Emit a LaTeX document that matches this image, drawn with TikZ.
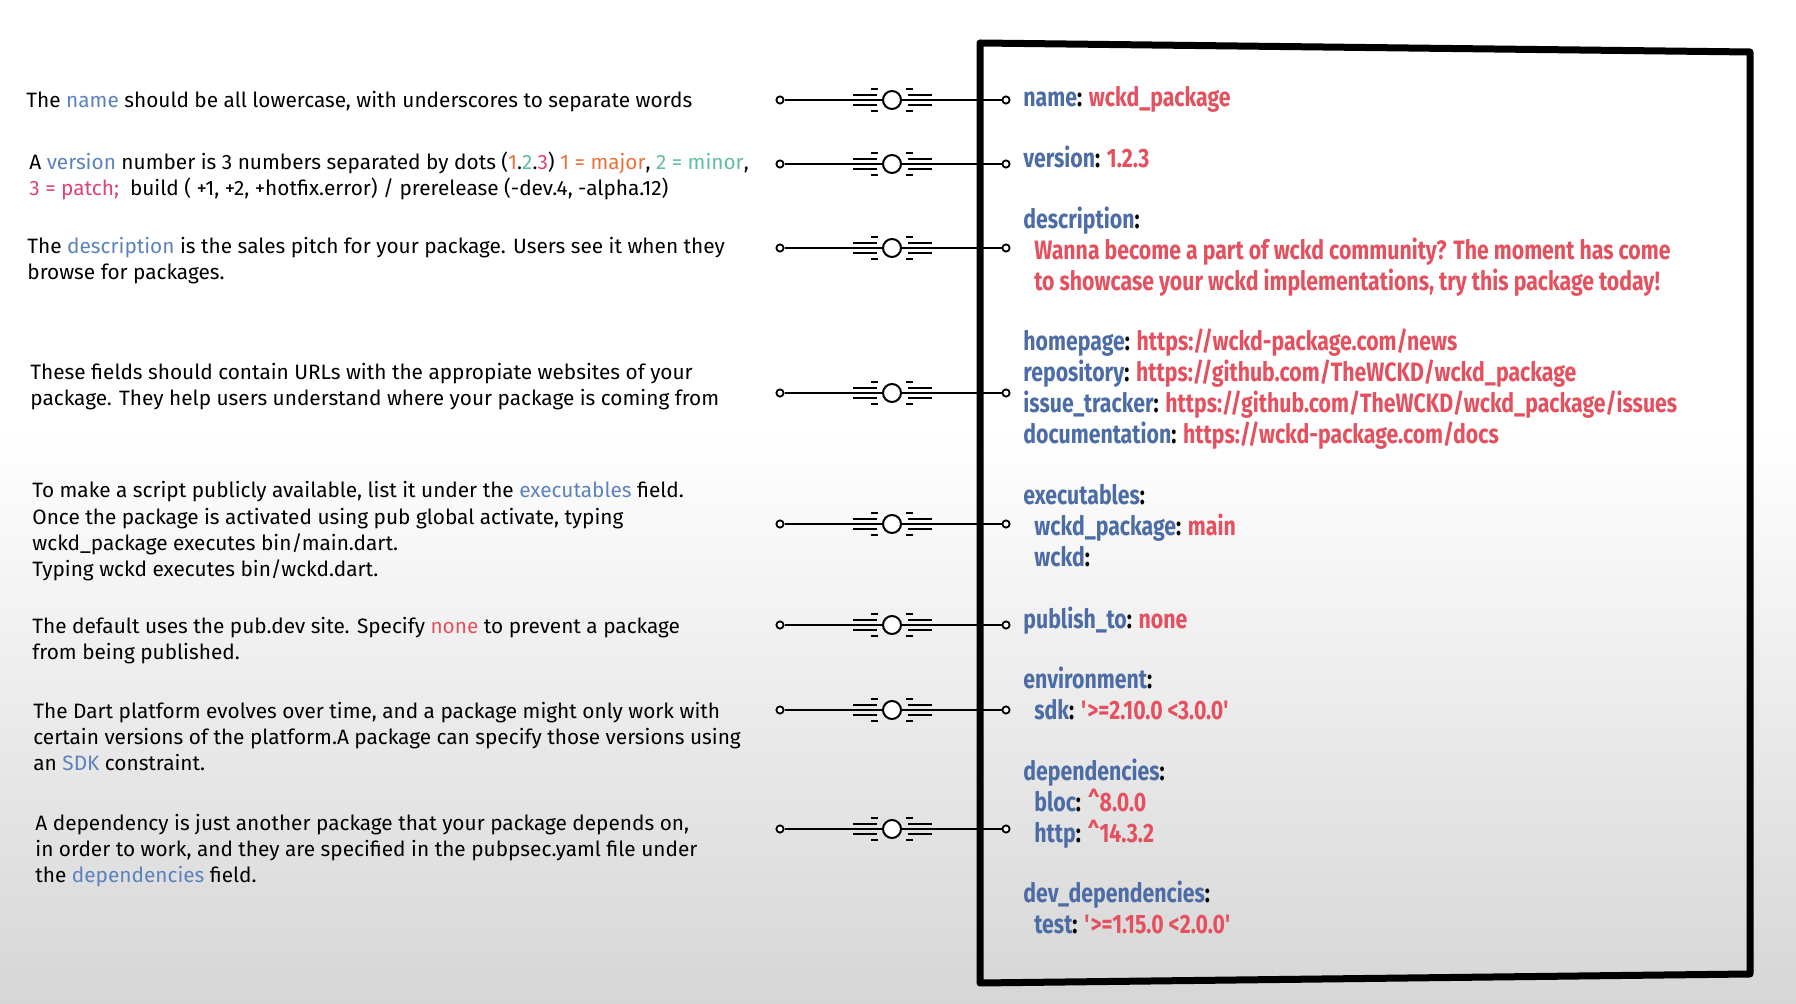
\documentclass[tikz,border=0pt]{standalone}
\usepackage{fontspec}
\setmainfont{Fira Sans}
\newfontfamily\yamlfont[FakeStretch=0.8]{Fira Sans}
\definecolor{keyblue}{RGB}{76,108,166}
\definecolor{valred}{RGB}{228,80,94}
\definecolor{noteblue}{RGB}{92,130,190}
\definecolor{vorange}{RGB}{232,114,60}
\definecolor{vteal}{RGB}{96,190,160}
\definecolor{vpink}{RGB}{224,64,122}
\definecolor{bgbottom}{RGB}{214,214,214}
\newcommand\nb[1]{\textcolor{noteblue}{#1}}
\newcommand\kk[1]{\textcolor{keyblue}{#1}}
\newcommand\vv[1]{\textcolor{valred}{#1}}
\tikzset{
  note/.style = {anchor=base west, align=left, inner sep=0pt,
    font=\fontsize{10.4}{13.2}\selectfont},
  yaml/.style = {anchor=base west, align=left, inner sep=0pt,
    font=\yamlfont\bfseries\fontsize{13.3}{15.5}\selectfont},
  pin/.style  = {circle, draw, fill=white, line width=0.9pt,
    minimum size=3.6pt, inner sep=0pt},
  hub/.style  = {circle, draw, fill=white, line width=1pt,
    minimum size=9pt, inner sep=0pt},
  wire/.style = {line width=1pt}
}

\begin{document}
\begin{tikzpicture}[x=0.5pt,y=-0.5pt]
  \useasboundingbox (0,0) rectangle (1796,1004);
  % background
  \fill[white] (0,0) rectangle (1796,1004);
  \shade[top color=white,bottom color=bgbottom] (0,430) rectangle (1796,1004);
  % notes (placed at the baseline of their last line)
  \node[note] (n1) at (26,108) {The \nb{name} should be all lowercase, with underscores to separate words};
  \node[note] (n2) at (29,196) {A \nb{version} number is 3 numbers separated by dots
    ({\color{vorange}1}.{\color{vteal}2}.{\color{vpink}3}) \textcolor{vorange}{1 = major}, \textcolor{vteal}{2 = minor},\\
    \textcolor{vpink}{3 = patch;}\ \ build ( +1, +2, +hotfix.error) / prerelease (-dev.4, -alpha.12)};
  \node[note] (n3) at (27,280) {The \nb{description} is the sales pitch for your package. Users see it when they\\
    browse for packages.};
  \node[note] (n4) at (30,406) {These fields should contain URLs with the appropiate websites of your\\
    package. They help users understand where your package is coming from};
  \node[note] (n5) at (32,577) {To make a script publicly available, list it under the \nb{executables} field.\\
    Once the package is activated using pub global activate, typing\\
    wckd\_package executes bin/main.dart.\\
    Typing wckd executes bin/wckd.dart.};
  \node[note] (n6) at (32,660) {The default uses the pub.dev site. Specify \vv{none} to prevent a package\\
    from being published.};
  \node[note] (n7) at (33,771) {The Dart platform evolves over time, and a package might only work with\\
    certain versions of the platform.A package can specify those versions using\\
    an \nb{SDK} constraint.};
  \node[note] (n8) at (35,883) {A dependency is just another package that your package depends on,\\
    in order to work, and they are specified in the pubpsec.yaml file under\\
    the \nb{dependencies} field.};
  % pubspec fields
  \node[yaml] (yname) at (1023,107) {\kk{name}: \vv{wckd\_package}};
  \node[yaml] (yversion) at (1023,168) {\kk{version}: \vv{1.2.3}};
  \node[yaml] (ydesc) at (1023,291) {\kk{description}:\\
    \hspace*{5.5pt}\vv{Wanna become a part of wckd community? The moment has come}\\
    \hspace*{5.5pt}\vv{to showcase your wckd implementations, try this package today!}};
  \node[yaml] (yurls) at (1023,444) {\kk{homepage}: \vv{https://wckd-package.com/news}\\
    \kk{repository}: \vv{https://github.com/TheWCKD/wckd\_package}\\
    \kk{issue\_tracker}: \vv{https://github.com/TheWCKD/wckd\_package/issues}\\
    \kk{documentation}: \vv{https://wckd-package.com/docs}};
  \node[yaml] (yexec) at (1023,567) {\kk{executables}:\\
    \hspace*{5.5pt}\kk{wckd\_package}: \vv{main}\\
    \hspace*{5.5pt}\kk{wckd}:};
  \node[yaml] (ypublish) at (1023,629) {\kk{publish\_to}: \vv{none}};
  \node[yaml] (yenv) at (1023,720) {\kk{environment}:\\
    \hspace*{5.5pt}\kk{sdk}: \vv{\textquotesingle>=2.10.0 <3.0.0\textquotesingle}};
  \node[yaml] (ydeps) at (1023,843) {\kk{dependencies}:\\
    \hspace*{5.5pt}\kk{bloc}: \vv{\textasciicircum8.0.0}\\
    \hspace*{5.5pt}\kk{http}: \vv{\textasciicircum14.3.2}};
  \node[yaml] (ydev) at (1023,934) {\kk{dev\_dependencies}:\\
    \hspace*{5.5pt}\kk{test}: \vv{\textquotesingle>=1.15.0 <2.0.0\textquotesingle}};
  % connectors
  \foreach \y [count=\i] in {100,164,248,393,524,625,710,829} {
    \node[pin] (l\i) at (780,\y) {};
    \node[hub] (g\i) at (892,\y) {};
    \node[pin] (r\i) at (1006,\y) {};
    \draw[wire] (l\i) -- (g\i) -- (r\i);
    \draw[wire] (853,\y-5) -- (877,\y-5) (853,\y+5) -- (877,\y+5)
                (908,\y-5) -- (932,\y-5) (908,\y+5) -- (932,\y+5);
    \draw[line width=1.3pt] (871,\y-11) -- (878,\y-11) (871,\y+11) -- (878,\y+11)
                            (906,\y-11) -- (913,\y-11) (906,\y+11) -- (913,\y+11);
  }
  % file box
  \draw[line width=3.5pt,line join=round] (980,43) -- (1750,52) -- (1750,974) -- (980,983) -- cycle;
\end{tikzpicture}
\end{document}
